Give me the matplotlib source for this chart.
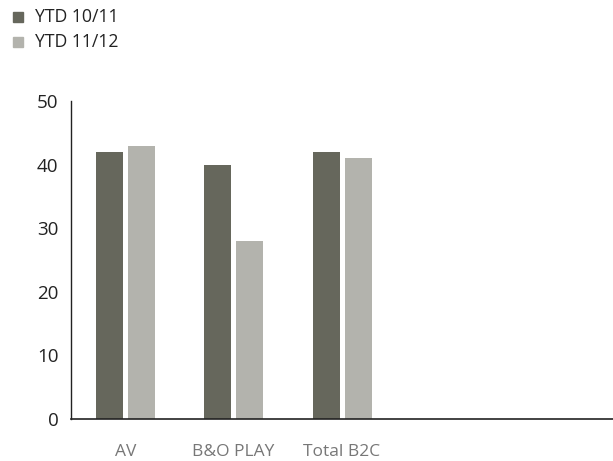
import matplotlib
matplotlib.use("Agg")
import matplotlib.pyplot as plt
import numpy as np

categories = ["AV", "B&O PLAY", "Total B2C", "", ""]
ytd_1011 = [42, 40, 42]
ytd_1112 = [43, 28, 41]
series_names = ["YTD 10/11", "YTD 11/12"]
colors = ["#66675c", "#b3b3ad"]
yticks = [0, 10, 20, 30, 40, 50]

plt.rcParams['font.family'] = ['Open Sans', 'DejaVu Sans']

W, H = 613, 461
fig = plt.figure(figsize=(W/100, H/100), dpi=100)
ax = fig.add_axes([71/W, 1-419/H, (613-71)/W, (419-101)/H])

n = len(categories)
x = np.arange(n)
bw = 27/108.4
gap = 5/108.4
off = (bw+gap)/2
ax.bar(x[:3]-off, ytd_1011, width=bw, color=colors[0])
ax.bar(x[:3]+off, ytd_1112, width=bw, color=colors[1])

ax.set_xlim(-0.5, n-0.5)
ax.set_ylim(0, 50)
ax.set_yticks(yticks)
ax.set_yticklabels([str(v) for v in yticks], fontsize=13.5, color="#222222")
ax.set_xticks(x)
ax.set_xticklabels(categories, fontsize=12.5, color="#777777")
ax.tick_params(axis='y', length=0, pad=9)
ax.tick_params(axis='x', length=0, pad=18)
for s in ['top', 'right']:
    ax.spines[s].set_visible(False)
ax.spines['left'].set_color('#222222')
ax.spines['bottom'].set_color('#222222')
ax.spines['left'].set_linewidth(1.0)
ax.spines['bottom'].set_linewidth(1.2)

# legend
for i, (name, c) in enumerate(zip(series_names, colors)):
    yc = 17 + i*25
    fig.patches.append(plt.Rectangle((13/W, 1-(yc+5)/H), 10/W, 10/H,
                                     transform=fig.transFigure, color=c))
    fig.text(35/W, 1-yc/H, name, fontsize=12.7, color="#222222", va='center', ha='left')

fig.savefig("out.png", dpi=100)
